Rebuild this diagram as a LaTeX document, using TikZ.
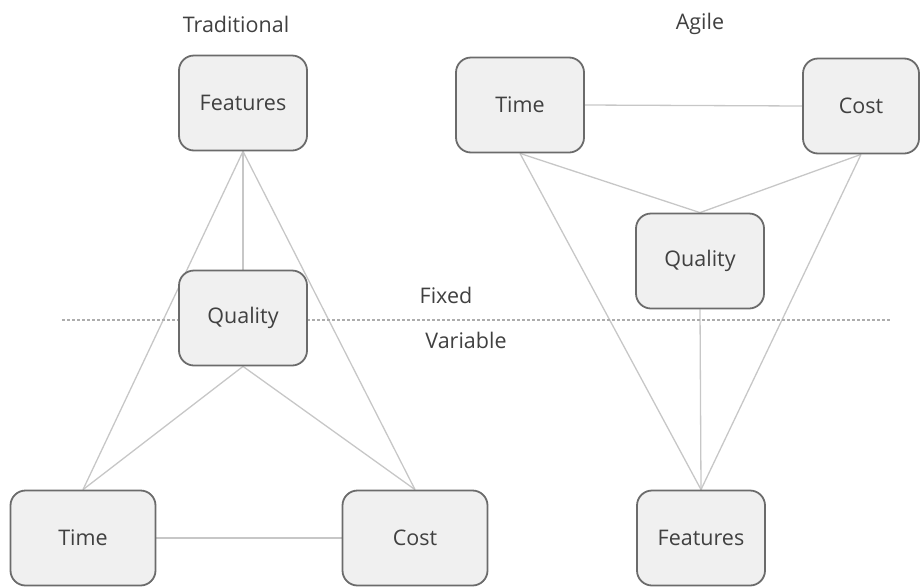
\documentclass[tikz,border=0pt]{standalone}
\usepackage{fontspec}
\setmainfont{Open Sans}
\usetikzlibrary{backgrounds}
\begin{document}
\begin{tikzpicture}[x=1pt,y=-1pt,
  every node/.style={font=\fontsize{21.5}{25}\selectfont, text=black!75},
  box/.style={draw=black!58, line width=1.8pt, fill=black!6, rounded corners=15pt,
    minimum width=#1, minimum height=95pt, inner sep=0pt},
  box/.default=128pt,
  link/.style={draw=black!22, line width=1.3pt},
  divider/.style={draw=black!32, line width=1.1pt, dash pattern=on 2.5pt off 2.5pt}]
\useasboundingbox (0,0) rectangle (920,587);

% section titles and the fixed / variable split
\node (ttrad) at (236,24) {Traditional};
\node (tagile) at (700,24) {Agile};
\coordinate (dl) at (62,320);
\coordinate (dr) at (890,320);
\draw[divider] (dl) -- (dr);
\node (fixed) at (446,295) {Fixed};
\node (variable) at (466,340) {Variable};

% traditional triangle
\node[box] (tf) at (243,103) {Features};
\node[box] (tq) at (243,318) {Quality};
\node[box=145pt] (tt) at (83,538) {Time};
\node[box=145pt] (tc) at (415,538) {Cost};

% agile triangle
\node[box] (at) at (520,105) {Time};
\node[box=116pt] (ac) at (861,106) {Cost};
\node[box] (aq) at (700,261) {Quality};
\node[box] (af) at (701,538) {Features};

% connectors run behind the boxes
\begin{pgfonlayer}{background}
\draw[link] (tf.south) -- (tq.north);
\draw[link] (tf.south) -- (tt.north);
\draw[link] (tf.south) -- (tc.north);
\draw[link] (tq.south) -- (tt.north);
\draw[link] (tq.south) -- (tc.north);
\draw[link] (tt.east) -- (tc.west);

\draw[link] (at.east) -- (ac.west);
\draw[link] (at.south) -- (aq.north);
\draw[link] (ac.south) -- (aq.north);
\draw[link] (at.south) -- (af.north);
\draw[link] (ac.south) -- (af.north);
\draw[link] (aq.south) -- (af.north);
\end{pgfonlayer}
\end{tikzpicture}
\end{document}
